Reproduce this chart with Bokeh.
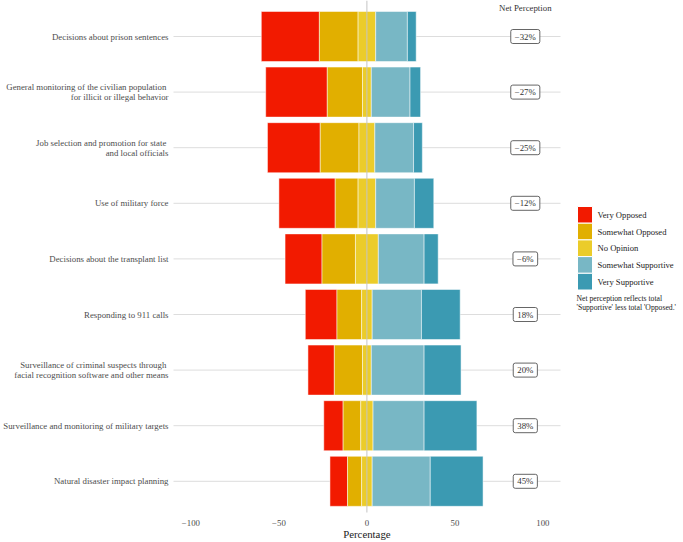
from bokeh.plotting import figure
from bokeh.models import Range1d, ColumnDataSource
from bokeh.embed import file_html
from bokeh.resources import INLINE
from bokeh.core.properties import value

# ---------------- data ----------------
categories = [
    "Decisions about prison sentences",
    "General monitoring of the civilian population \nfor illicit or illegal behavior",
    "Job selection and promotion for state \nand local officials",
    "Use of military force",
    "Decisions about the transplant list",
    "Responding to 911 calls",
    "Surveillance of criminal suspects through \nfacial recognition software and other means",
    "Surveillance and monitoring of military targets",
    "Natural disaster impact planning",
]
very_opposed = [33, 35, 30, 32, 21, 18, 15, 11, 10]
somewhat_opposed = [22, 20, 22, 13, 19, 14, 16, 10, 8]
no_opinion = [10, 5, 9, 10, 13, 6, 5, 7, 6]
somewhat_supportive = [18, 22, 22, 22, 26, 28, 30, 29, 33]
very_supportive = [5, 6, 5, 11, 8, 22, 21, 30, 30]
net_perception = [-32, -27, -25, -12, -6, 18, 20, 38, 45]
response_labels = ["Very Opposed", "Somewhat Opposed", "No Opinion",
                   "Somewhat Supportive", "Very Supportive"]
colors = ["#F21A00", "#E1AF00", "#EBCC2A", "#78B7C5", "#3B9AB2"]
x_ticks = [-100, -50, 0, 50, 100]
caption_lines = ["Net perception reflects total", " 'Supportive' less total 'Opposed.'"]

# ---------------- layout constants (pixels) ----------------
FONT = "Liberation Serif"
W, H = 683, 542
PANEL_L = 173          # left edge of the plotting panel
PANEL_R = 560          # right edge of the plotting panel
ZERO = 366.4           # pixel x of value 0
PX_X = 1.76            # pixels per percentage point
PX_Y = 55.6            # pixels per category row
ROW0 = 36              # pixel centre of the first row
n = len(categories)
X0 = -ZERO / PX_X
X1 = X0 + W / PX_X
Y1 = (n - 1) + ROW0 / PX_Y
Y0 = Y1 - H / PX_Y


def dx(px):
    return (px - ZERO) / PX_X


def dy(py):
    return Y1 - py / PX_Y


ypos = [n - 1 - i for i in range(n)]

half = [v / 2 for v in no_opinion]
so_right = [-h for h in half]
so_left = [-h - s for h, s in zip(half, somewhat_opposed)]
vo_left = [l - v for l, v in zip(so_left, very_opposed)]
ss_right = [h + s for h, s in zip(half, somewhat_supportive)]
vs_right = [r + v for r, v in zip(ss_right, very_supportive)]
segments = [(vo_left, so_left), (so_left, so_right), (so_right, half),
            (half, ss_right), (ss_right, vs_right)]

p = figure(width=W, height=H, x_range=Range1d(X0, X1), y_range=Range1d(Y0, Y1),
           output_backend="svg", toolbar_location=None,
           min_border_left=0, min_border_right=0,
           min_border_top=0, min_border_bottom=0)
p.outline_line_color = None
p.background_fill_color = "white"
p.border_fill_color = "white"
p.xaxis.visible = False
p.yaxis.visible = False
p.xgrid.visible = False
p.ygrid.visible = False

# horizontal grid lines
p.segment(x0=[dx(PANEL_L)] * n, x1=[dx(PANEL_R)] * n, y0=ypos, y1=ypos,
          line_color="#DDDDDD", line_width=1)

# stacked bars
for (l, r), c in zip(segments, colors):
    src = ColumnDataSource(dict(y=ypos, left=l, right=r))
    p.hbar(y="y", left="left", right="right", height=0.9, source=src,
           fill_color=c, line_color="white", line_width=0.5)

# zero line
p.segment(x0=[0], x1=[0], y0=[Y1], y1=[dy(512)], line_color="#C4C4C4", line_width=1)

# category labels (y axis)
p.text(x=[dx(PANEL_L - 5)] * n, y=ypos, text=categories, text_align="right",
       text_baseline="middle", text_font=value(FONT), text_font_size="8.8px",
       text_color="#4d4d4d", text_line_height=1.02)

# net perception labels
net_text = [("\u2212%d%%" % abs(v)) if v < 0 else ("%d%%" % v) for v in net_perception]
nsrc = ColumnDataSource(dict(x=[90] * n, y=ypos, text=net_text))
p.text(x="x", y="y", text="text", source=nsrc, text_align="center",
       text_baseline="middle", text_font=value(FONT), text_font_size="8.8px",
       text_color="#333333", background_fill_color="white",
       border_line_color="#555555", border_line_width=0.9,
       padding=(4, 2), border_radius=2)

p.text(x=[90], y=[dy(7)], text=["Net Perception"], text_align="center",
       text_baseline="middle", text_font=value(FONT), text_font_size="8.8px",
       text_color="#333333")

# x axis (drawn as text)
tick_text = [("\u2212%d" % abs(t)) if t < 0 else str(t) for t in x_ticks]
p.text(x=x_ticks, y=[dy(522)] * len(x_ticks), text=tick_text, text_align="center",
       text_baseline="middle", text_font=value(FONT), text_font_size="8.8px",
       text_color="#4d4d4d")
p.text(x=[0], y=[dy(533)], text=["Percentage"], text_align="center",
       text_baseline="middle", text_font=value(FONT), text_font_size="10.8px",
       text_color="#1a1a1a")

# legend (drawn as glyphs)
KEY_L, KEY_W, KEY_TOP, KEY_H = 577, 15, 206, 16.7
nk = len(response_labels)
k_top = [dy(KEY_TOP + KEY_H * i) for i in range(nk)]
k_bot = [dy(KEY_TOP + KEY_H * (i + 1)) for i in range(nk)]
k_mid = [dy(KEY_TOP + KEY_H * (i + 0.5)) for i in range(nk)]
p.quad(left=[dx(KEY_L)] * nk, right=[dx(KEY_L + KEY_W)] * nk, top=k_top, bottom=k_bot,
       fill_color=colors, line_color="white", line_width=1)
p.text(x=[dx(KEY_L + KEY_W + 5)] * nk, y=k_mid, text=response_labels, text_align="left",
       text_baseline="middle", text_font=value(FONT), text_font_size="8.6px",
       text_color="#1a1a1a")
p.text(x=[dx(576)] * len(caption_lines), y=[dy(298 + 9 * i) for i in range(len(caption_lines))],
       text=caption_lines, text_align="left", text_baseline="middle",
       text_font=value(FONT), text_font_size="7.7px", text_color="#1a1a1a")

open("out.html", "w").write(file_html(p, INLINE))
